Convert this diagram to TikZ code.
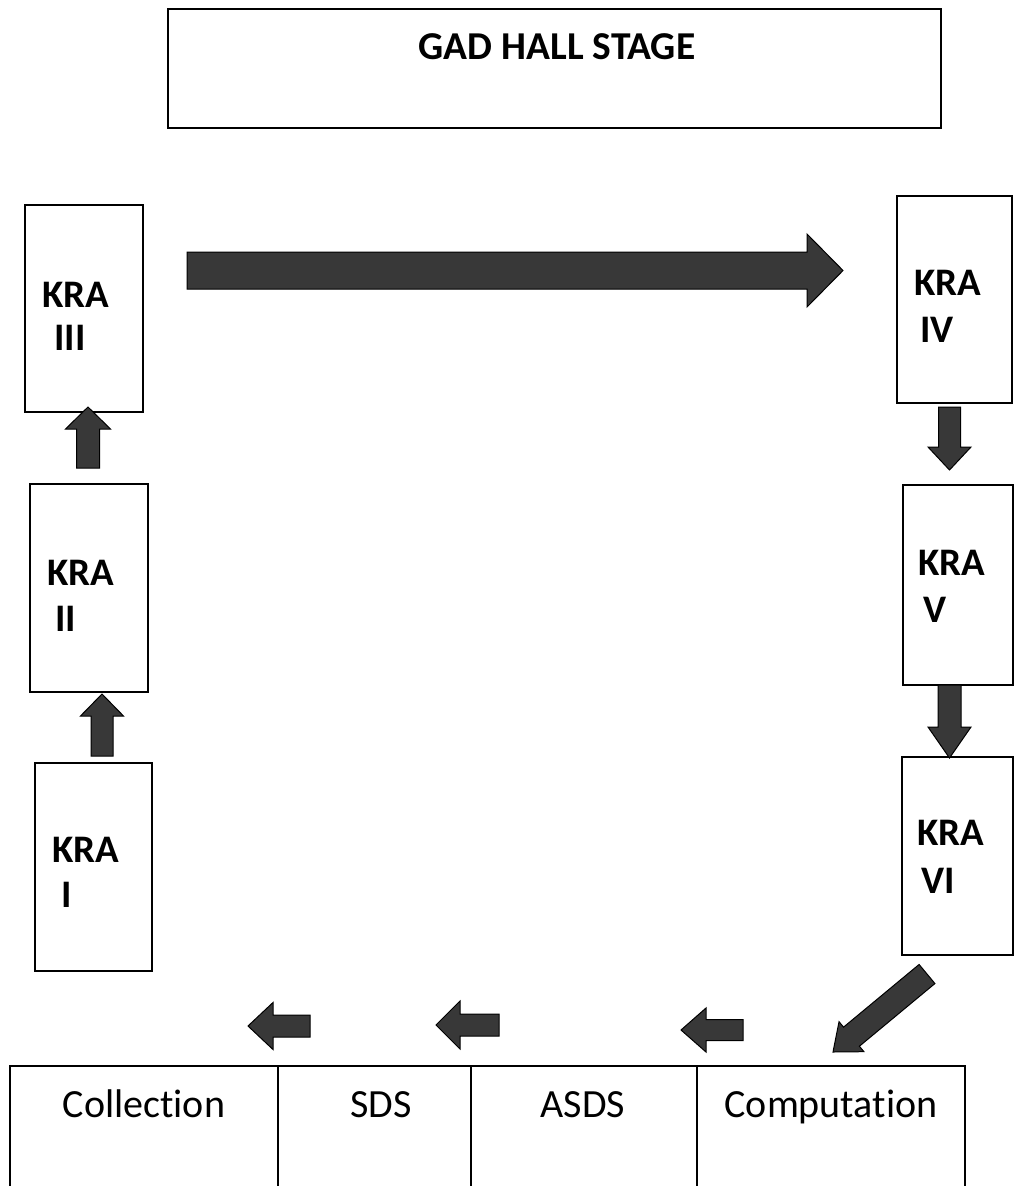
\documentclass[tikz,border=0pt]{standalone}
\usepackage{fontspec}
\setmainfont{Carlito}[Ligatures=NoCommon]
\usetikzlibrary{calc}
\tikzset{
  box/.style={draw=black, line width=2pt, inner sep=0pt, outer sep=0pt},
  kra/.style={font=\bfseries\fontsize{39}{46}\selectfont, inner sep=0pt, anchor=base west},
  lbl/.style={font=\fontsize{40}{46}\selectfont, inner sep=0pt, anchor=base},
  ttl/.style={font=\bfseries\fontsize{39.5}{46}\selectfont, inner sep=0pt, anchor=base},
  blk/.style={fill=black!78, draw=black, line width=1pt, line join=miter},
}
% #1 tail centre, #2 tip, #3 shaft half width, #4 head half width, #5 head length
\newcommand\blockarrow[5]{%
  \coordinate (hb) at ($(#2)!#5!(#1)$);
  \filldraw[blk] ($(#1)!#3!90:(#2)$) -- ($(hb)!#3!-90:(#1)$) -- ($(hb)!#4!-90:(#1)$)
    -- (#2) -- ($(hb)!#4!90:(#1)$) -- ($(hb)!#3!90:(#1)$) -- ($(#1)!#3!-90:(#2)$) -- cycle;
}
\begin{document}
\begin{tikzpicture}[x=1pt, y=-1pt]
  \useasboundingbox (0,0) rectangle (1014,1186);
  \fill[white] (0,0) rectangle (1014,1186);

  % stage
  \draw[box] (168,9) rectangle (941,128);
  \node[ttl] (stage) at (557,59) {GAD HALL STAGE};

  % left column
  \draw[box] (25,205) rectangle (143,412);
  \draw[box] (30,484) rectangle (148,692);
  \draw[box] (35,763) rectangle (152,971);
  \node[kra] (k3a) at (42,307) {KRA};
  \node[kra] (k3b) at (54,350) {III};
  \node[kra] (k2a) at (47,585) {KRA};
  \node[kra] (k2b) at (55,631) {II};
  \node[kra] (k1a) at (52,862) {KRA};
  \node[kra] (k1b) at (61,907) {I};

  % right column
  \draw[box] (897,196) rectangle (1012,403);
  \draw[box] (903,485) rectangle (1013,685);
  \draw[box] (902,757) rectangle (1013,955);
  \node[kra] (k4a) at (914,295) {KRA};
  \node[kra] (k4b) at (920,342) {IV};
  \node[kra] (k5a) at (918,575) {KRA};
  \node[kra] (k5b) at (923,622) {V};
  \node[kra] (k6a) at (917,845) {KRA};
  \node[kra] (k6b) at (921,893) {VI};

  % bottom row
  \draw[box] (10,1066) rectangle (278,1200);
  \draw[box] (278,1066) rectangle (471,1200);
  \draw[box] (471,1066) rectangle (697,1200);
  \draw[box] (697,1066) rectangle (965,1200);
  \node[lbl] (coll) at (144,1117) {Collection};
  \node[lbl] (sds)  at (381,1117) {SDS};
  \node[lbl] (asds) at (583,1117) {ASDS};
  \node[lbl] (comp) at (831,1117) {Computation};

  % arrows
  \coordinate (a1s) at (102,756);  \coordinate (a1e) at (102,694);
  \coordinate (a2s) at (88,468);   \coordinate (a2e) at (88,407);
  \coordinate (a3s) at (187,270.5);\coordinate (a3e) at (843,270.5);
  \coordinate (a4s) at (949.5,407);\coordinate (a4e) at (949.5,470);
  \coordinate (a5s) at (949.5,685);\coordinate (a5e) at (949.5,758);
  \coordinate (a6s) at (927,974);  \coordinate (a6e) at (833,1052);
  \coordinate (a7s) at (743,1030); \coordinate (a7e) at (681,1030);
  \coordinate (a8s) at (499,1025); \coordinate (a8e) at (436,1025);
  \coordinate (a9s) at (310,1026); \coordinate (a9e) at (248,1026);
  \blockarrow{a1s}{a1e}{11pt}{21.5pt}{22pt}
  \blockarrow{a2s}{a2e}{11.5pt}{22.5pt}{22pt}
  \blockarrow{a3s}{a3e}{18.5pt}{36.5pt}{36pt}
  \blockarrow{a4s}{a4e}{11pt}{21.5pt}{23pt}
  \blockarrow{a5s}{a5e}{11.5pt}{21.5pt}{31pt}
  \blockarrow{a6s}{a6e}{12.4pt}{19.5pt}{24pt}
  \blockarrow{a7s}{a7e}{10.5pt}{22pt}{25pt}
  \blockarrow{a8s}{a8e}{11pt}{24pt}{24pt}
  \blockarrow{a9s}{a9e}{11pt}{23.5pt}{25pt}
\end{tikzpicture}
\end{document}
